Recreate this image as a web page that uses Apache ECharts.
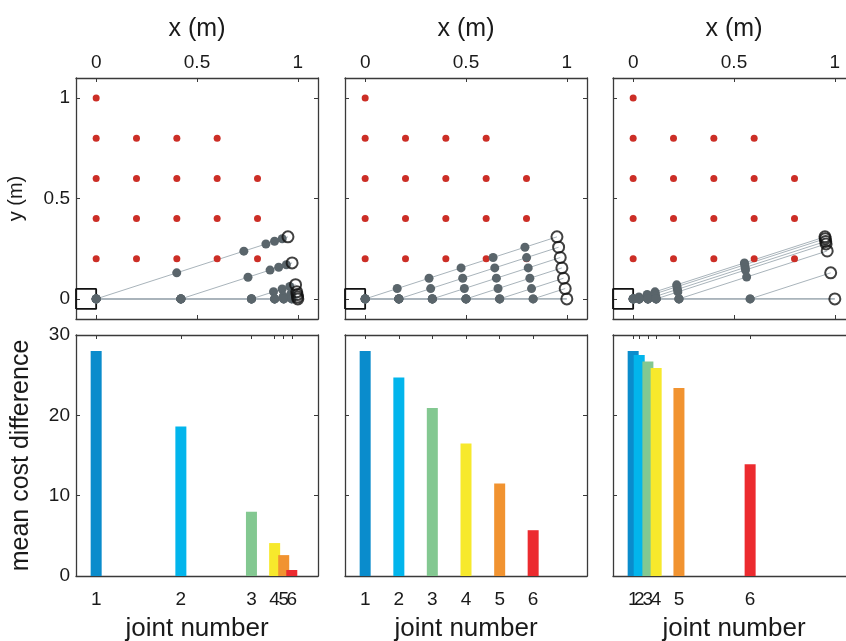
<!DOCTYPE html>
<html>
<head>
<meta charset="utf-8">
<script src="https://cdn.jsdelivr.net/npm/echarts@6/dist/echarts.min.js"></script>
<style>
html, body { margin: 0; padding: 0; background: #fff; }
#chart { width: 846px; height: 641px; }
</style>
</head>
<body>
<div id="chart"></div>
<script>
// joint x positions (m) of the straight arm, one list per column
const jointPos1 = [0, 0.42, 0.77, 0.885, 0.93, 0.97];
const jointPos2 = [0, 0.167, 0.333, 0.5, 0.667, 0.833];
const jointPos3 = [0, 0.03, 0.073, 0.114, 0.227, 0.58];
const armLength = 1;
const bendDeg = 18;   // angle the arm is bent by at each joint

// mean cost difference per joint
const costDiff1 = [28, 18.6, 8, 4.1, 2.6, 0.75];
const costDiff2 = [28, 24.7, 20.9, 16.5, 11.5, 5.7];
const costDiff3 = [28, 27.5, 26.7, 25.9, 23.4, 13.9];

const jointLabels = ['1', '2', '3', '4', '5', '6'];
const barColors = ['#0a8ccc', '#02b5ec', '#83c891', '#f7e92c', '#f19330', '#ec2b2f'];

// red target points
const targets = [
    [0, 1],
    [0, 0.8], [0.2, 0.8], [0.4, 0.8], [0.6, 0.8],
    [0, 0.6], [0.2, 0.6], [0.4, 0.6], [0.6, 0.6], [0.8, 0.6],
    [0, 0.4], [0.2, 0.4], [0.4, 0.4], [0.6, 0.4], [0.8, 0.4],
    [0, 0.2], [0.2, 0.2], [0.4, 0.2], [0.6, 0.2], [0.8, 0.2]
];
const baseBox = [[-0.1, -0.05], [0, -0.05], [0, 0.05], [-0.1, 0.05], [-0.1, -0.05]];

const xTicks = [0, 0.5, 1];
const yTicksTop = [0, 0.5, 1];
const spaceRange = [-0.1, 1.1];
const costRange = [0, 30];

const FONT = '"Liberation Sans", Arial, Helvetica, sans-serif';
const TXT = '#1a1a1a';
const FRAME = '#3a3a3a';
const LINK = '#a9b4bb';
const JOINT = '#5a656b';
const TARGET = '#cc2e26';

const columns = [
    {pos: jointPos1, cost: costDiff1, left: 76},
    {pos: jointPos2, cost: costDiff2, left: 345},
    {pos: jointPos3, cost: costDiff3, left: 613}
];

// arm configurations: straight, then bent at joint k
function armConfigs(pos) {
    let out = [];
    let straight = pos.map(x => [x, 0]);
    straight.push([armLength, 0]);
    out.push(straight);
    let c = Math.cos(bendDeg * Math.PI / 180), s = Math.sin(bendDeg * Math.PI / 180);
    for (let k = 0; k < pos.length; k++) {
        let piv = pos[k];
        let pts = [];
        for (let j = 0; j < pos.length; j++) {
            if (j <= k) pts.push([pos[j], 0]);
            else pts.push([piv + (pos[j] - piv) * c, (pos[j] - piv) * s]);
        }
        pts.push([piv + (armLength - piv) * c, (armLength - piv) * s]);
        out.push(pts);
    }
    return out;
}

const grid = [], xAxis = [], yAxis = [], series = [];

function labelStyle(extra) {
    return Object.assign({
        show: true, color: TXT, fontSize: 19, fontFamily: FONT,
        hideOverlap: false, showMinLabel: true, showMaxLabel: true
    }, extra);
}

function axisBase(extra) {
    return Object.assign({
        type: 'value',
        axisLine: {show: true, onZero: false, lineStyle: {color: FRAME, width: 1.3}},
        axisTick: {show: true, inside: true, length: 4, lineStyle: {color: FRAME, width: 1}},
        splitLine: {show: false},
        axisLabel: {show: false},
        nameTextStyle: {color: TXT, fontFamily: FONT}
    }, extra);
}

function ticks(values) {
    return {show: true, inside: true, length: 4, customValues: values, lineStyle: {color: FRAME, width: 1}};
}

columns.forEach((col, ci) => {
    // ---- top: arm picture ----
    let g = grid.length;
    grid.push({left: col.left, top: 78, width: 242, height: 241, outerBoundsMode: 'none', containLabel: false});
    let xi = xAxis.length;
    xAxis.push(axisBase({
        gridIndex: g, position: 'top', min: spaceRange[0], max: spaceRange[1],
        axisTick: ticks(xTicks),
        axisLabel: labelStyle({customValues: xTicks, margin: 6}),
        name: 'x (m)', nameLocation: 'middle', nameGap: 36,
        nameTextStyle: {color: TXT, fontSize: 25, fontFamily: FONT}
    }));
    xAxis.push(axisBase({
        gridIndex: g, position: 'bottom', min: spaceRange[0], max: spaceRange[1],
        axisTick: ticks(xTicks)
    }));
    let yi = yAxis.length;
    yAxis.push(axisBase({
        gridIndex: g, position: 'left', min: spaceRange[0], max: spaceRange[1],
        axisTick: ticks(yTicksTop),
        axisLabel: labelStyle({show: ci === 0, customValues: yTicksTop, margin: 6}),
        name: ci === 0 ? 'y (m)' : '', nameLocation: 'middle', nameGap: 50, nameRotate: 90,
        nameTextStyle: {color: TXT, fontSize: 20, fontFamily: FONT}
    }));
    yAxis.push(axisBase({
        gridIndex: g, position: 'right', min: spaceRange[0], max: spaceRange[1],
        axisTick: ticks(yTicksTop)
    }));

    let configs = armConfigs(col.pos);
    configs.forEach((pts, n) => {
        series.push({
            type: 'line', xAxisIndex: xi, yAxisIndex: yi, data: pts,
            showSymbol: false, silent: true, z: 1,
            lineStyle: {color: LINK, width: n === 0 ? 1.6 : 1}
        });
    });
    series.push({
        type: 'line', xAxisIndex: xi, yAxisIndex: yi, data: baseBox, clip: false,
        showSymbol: false, silent: true, z: 2,
        lineStyle: {color: '#111', width: 1.8}
    });
    series.push({
        type: 'scatter', xAxisIndex: xi, yAxisIndex: yi, data: targets,
        symbolSize: 7, z: 2, itemStyle: {color: TARGET, opacity: 1}
    });
    let joints = [];
    configs.forEach(pts => pts.slice(0, -1).forEach(p => joints.push(p)));
    series.push({
        type: 'scatter', xAxisIndex: xi, yAxisIndex: yi, data: joints,
        symbolSize: 9, z: 3, itemStyle: {color: JOINT, opacity: 1}
    });
    series.push({
        type: 'scatter', xAxisIndex: xi, yAxisIndex: yi, data: configs.map(pts => pts[pts.length - 1]),
        symbolSize: 11, z: 4, clip: false,
        itemStyle: {color: 'rgba(0,0,0,0)', borderColor: '#111', borderWidth: 2}
    });

    // ---- bottom: cost bars ----
    g = grid.length;
    grid.push({left: col.left, top: 335, width: 242, height: 241, outerBoundsMode: 'none', containLabel: false});
    xi = xAxis.length;
    const pos = col.pos;
    // odd and even joint labels sit on two axes so crowded labels all stay visible
    const oddPos = pos.filter((v, i) => i % 2 === 0);
    const evenPos = pos.filter((v, i) => i % 2 === 1);
    xAxis.push(axisBase({
        gridIndex: g, position: 'bottom', min: spaceRange[0], max: spaceRange[1],
        axisTick: ticks(pos),
        axisLabel: labelStyle({customValues: oddPos, margin: 14,
            formatter: v => jointLabels[pos.indexOf(v)]}),
        name: 'joint number', nameLocation: 'middle', nameGap: 40,
        nameTextStyle: {color: TXT, fontSize: 26, fontFamily: FONT}
    }));
    xAxis.push(axisBase({
        gridIndex: g, position: 'bottom', min: spaceRange[0], max: spaceRange[1],
        axisLine: {show: false, onZero: false},
        axisTick: {show: false},
        axisLabel: labelStyle({customValues: evenPos, margin: 14,
            formatter: v => jointLabels[pos.indexOf(v)]})
    }));
    xAxis.push(axisBase({
        gridIndex: g, position: 'top', min: spaceRange[0], max: spaceRange[1],
        axisTick: ticks(pos)
    }));
    yi = yAxis.length;
    yAxis.push(axisBase({
        gridIndex: g, position: 'left', min: costRange[0], max: costRange[1], interval: 10,
        axisLabel: labelStyle({show: ci === 0, margin: 6}),
        name: ci === 0 ? 'mean cost difference' : '', nameLocation: 'middle', nameGap: 42, nameRotate: 90,
        nameTextStyle: {color: TXT, fontSize: 25, fontFamily: FONT}
    }));
    yAxis.push(axisBase({
        gridIndex: g, position: 'right', min: costRange[0], max: costRange[1], interval: 10
    }));
    series.push({
        type: 'bar', xAxisIndex: xi, yAxisIndex: yi, barWidth: 11,
        data: col.cost.map((v, i) => ({value: [pos[i], v], itemStyle: {color: barColors[i]}}))
    });
});

const chart = echarts.init(document.getElementById('chart'));
chart.setOption({
    animation: false,
    backgroundColor: '#fff',
    textStyle: {fontFamily: FONT},
    grid: grid,
    xAxis: xAxis,
    yAxis: yAxis,
    series: series
});
</script>
</body>
</html>
